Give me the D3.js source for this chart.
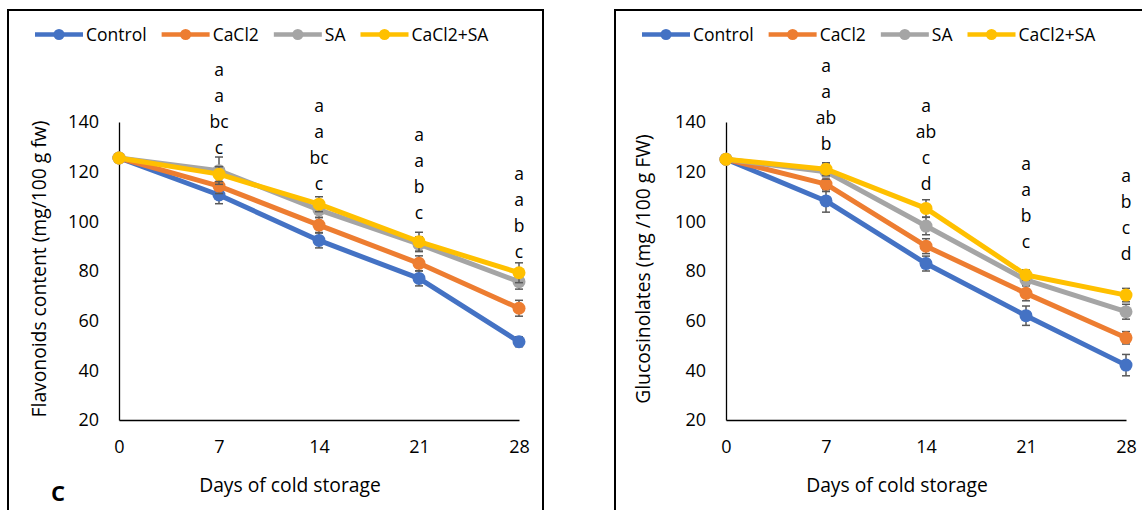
<!DOCTYPE html>
<html lang="en">
<head>
    <meta charset="utf-8">
    <title>Flavonoids and glucosinolates during cold storage</title>
    <style>
        body { margin: 0; background: white; }
        svg { display: block; }
        text { font-family: "Open Sans", sans-serif; font-size: 17.5px; fill: #000; }
        .tick text { font-family: "Open Sans", sans-serif; font-size: 18px; fill: #000; }
        .axis-title { font-size: 19.3px; }
        .tag { font-size: 22px; font-weight: bold; }
        .domain { stroke: #000; stroke-width: 1.3; }
        .err { stroke: #595959; stroke-width: 1.5; }
        .panel-box { fill: none; stroke: #000; stroke-width: 2; }
    </style>
    <script src="https://d3js.org/d3.v7.min.js"></script>
</head>
<body>
<svg id="chart" width="1142" height="510"></svg>
<script>
    // data
    const days = [0, 7, 14, 21, 28];
    const seriesNames = ["Control", "CaCl2", "SA", "CaCl2+SA"];
    const seriesColors = ["#4472C4", "#ED7D31", "#A5A5A5", "#FFC000"];
    const yTicks = [20, 40, 60, 80, 100, 120, 140];

    // C: flavonoids
    const flavControl = [125.5, 110.6, 92.3, 77.0, 51.5];
    const flavCaCl2   = [125.5, 114.2, 98.5, 83.1, 65.0];
    const flavSA      = [125.5, 120.4, 104.6, 90.8, 75.7];
    const flavMix     = [125.5, 119.0, 106.9, 91.8, 79.3];
    const flavErrControl = [0.5, 3.5, 3.0, 3.0, 2.0];
    const flavErrCaCl2   = [0.5, 3.0, 3.0, 3.0, 3.2];
    const flavErrSA      = [0.5, 5.5, 3.0, 3.0, 3.0];
    const flavErrMix     = [0.5, 3.0, 3.0, 3.8, 4.0];
    const flavLetters = [[], ["a", "a", "bc", "c"], ["a", "a", "bc", "c"], ["a", "a", "b", "c"], ["a", "a", "b", "c"]];
    const flavLetterAt = [null, 129.5, 115.0, 103.4, 87.8];

    // glucosinolates
    const glucControl = [125.0, 108.2, 83.0, 62.0, 42.1];
    const glucCaCl2   = [125.0, 115.0, 90.0, 71.0, 53.1];
    const glucSA      = [125.0, 120.0, 98.1, 76.4, 63.6];
    const glucMix     = [125.0, 121.0, 105.2, 78.4, 70.3];
    const glucErrControl = [0.5, 4.5, 3.0, 3.9, 4.3];
    const glucErrCaCl2   = [0.5, 3.0, 3.0, 3.0, 2.5];
    const glucErrSA      = [0.5, 3.0, 3.5, 2.0, 3.0];
    const glucErrMix     = [0.5, 2.6, 3.5, 2.0, 2.7];
    const glucLetters = [[], ["a", "a", "ab", "b"], ["a", "ab", "c", "d"], ["a", "a", "b", "c"], ["a", "b", "c", "d"]];
    const glucLetterAt = [null, 131.0, 115.0, 91.8, 86.8];

    const svg = d3.select("#chart");

    function drawPanel(dx, cfg) {
        const g = svg.append("g").attr("transform", `translate(${dx},0)`);

        g.append("rect").attr("class", "panel-box")
            .attr("x", 8).attr("y", 10).attr("width", 535).attr("height", 540);

        const x = d3.scaleLinear().domain([0, 28]).range([119, 519]);
        const y = d3.scaleLinear().domain([20, 140]).range([420, 122]);

        g.append("g").attr("transform", "translate(0,420)")
            .call(d3.axisBottom(x).tickValues(days).tickSize(0).tickPadding(20));
        g.append("g").attr("transform", "translate(119,0)")
            .call(d3.axisLeft(y).tickValues(yTicks).tickSize(0).tickPadding(20));

        g.append("text").attr("class", "axis-title")
            .attr("transform", `translate(${cfg.yTitleX},269) rotate(-90)`)
            .attr("text-anchor", "middle").attr("dy", "0.35em")
            .text(cfg.yTitle);
        g.append("text").attr("class", "axis-title")
            .attr("x", 290).attr("y", 485).attr("dy", "0.35em")
            .attr("text-anchor", "middle")
            .text("Days of cold storage");

        if (cfg.tag) {
            g.append("text").attr("class", "tag")
                .attr("x", 58).attr("y", 493).attr("dy", "0.35em")
                .attr("text-anchor", "middle")
                .text(cfg.tag);
        }

        const line = d3.line().x((d, i) => x(days[i])).y(d => y(d));

        cfg.values.forEach((vals, s) => {
            const col = seriesColors[s];
            g.append("path").datum(vals)
                .attr("d", line).attr("fill", "none")
                .attr("stroke", col).attr("stroke-width", 5)
                .attr("stroke-linejoin", "round");

            const errs = cfg.errors[s];
            const eb = g.append("g");
            vals.forEach((v, i) => {
                const cx = x(days[i]);
                eb.append("line").attr("class", "err")
                    .attr("x1", cx).attr("x2", cx)
                    .attr("y1", y(v - errs[i])).attr("y2", y(v + errs[i]));
                [v - errs[i], v + errs[i]].forEach(e => {
                    eb.append("line").attr("class", "err")
                        .attr("x1", cx - 4).attr("x2", cx + 4)
                        .attr("y1", y(e)).attr("y2", y(e));
                });
            });

            g.selectAll(null).data(vals).join("circle")
                .attr("cx", (d, i) => x(days[i]))
                .attr("cy", d => y(d))
                .attr("r", 6.5)
                .attr("fill", col);
        });

        // significance letters
        cfg.letters.forEach((ls, i) => {
            if (!ls.length) return;
            const base = y(cfg.letterAt[i]);
            ls.forEach((l, k) => {
                g.append("text")
                    .attr("x", x(days[i]))
                    .attr("y", base - (ls.length - 1 - k) * 26)
                    .attr("dy", "0.35em")
                    .attr("text-anchor", "middle")
                    .text(l);
            });
        });

        // legend
        let lx = 35;
        seriesNames.forEach((name, s) => {
            const item = g.append("g");
            item.append("line")
                .attr("x1", lx).attr("x2", lx + 48)
                .attr("y1", 34.5).attr("y2", 34.5)
                .attr("stroke", seriesColors[s]).attr("stroke-width", 4.5);
            item.append("circle")
                .attr("cx", lx + 24).attr("cy", 34.5).attr("r", 5.5)
                .attr("fill", seriesColors[s]);
            const t = item.append("text")
                .attr("x", lx + 51).attr("y", 34.5).attr("dy", "0.35em")
                .text(name);
            lx += 51 + t.node().getComputedTextLength() + 15;
        });
    }

    drawPanel(0, {
        values: [flavControl, flavCaCl2, flavSA, flavMix],
        errors: [flavErrControl, flavErrCaCl2, flavErrSA, flavErrMix],
        letters: flavLetters,
        letterAt: flavLetterAt,
        yTitle: "Flavonoids content (mg/100 g fw)",
        yTitleX: 39,
        tag: "C"
    });

    drawPanel(607, {
        values: [glucControl, glucCaCl2, glucSA, glucMix],
        errors: [glucErrControl, glucErrCaCl2, glucErrSA, glucErrMix],
        letters: glucLetters,
        letterAt: glucLetterAt,
        yTitle: "Glucosinolates (mg /100 g FW)",
        yTitleX: 36,
        tag: null
    });
</script>
</body>
</html>
